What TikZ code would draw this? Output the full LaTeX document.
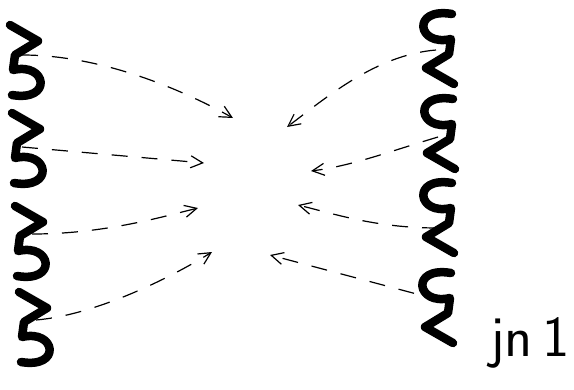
\documentclass[tikz,border=0pt]{standalone}
\usepackage{fontspec}
\usetikzlibrary{arrows.meta}
\tikzset{
  squig/.pic={\draw[line width=8.5pt,line cap=round,line join=round]
    (3,3) -- (31,19) -- (8,33) -- (6,48) .. controls (40,40) and (46,80) .. (5,73);},
  dasharrow/.style={-{Straight Barb[length=12pt,width=12pt]}, line width=1.2pt, dash pattern=on 16pt off 14pt},
}

\begin{document}
\begin{tikzpicture}[x=1pt,y=-1pt]
  \useasboundingbox (0,0) rectangle (574,389);
  \foreach \x/\y in {7/22, 9/110, 12/203, 16/289}
    \pic at (\x,\y) {squig};
  \foreach \x/\y in {457/87, 458/172, 457/256, 456/346}
    \pic[rotate=180] at (\x,\y) {squig};

  \coordinate (l1) at (22,55);
  \coordinate (l2) at (22,147);
  \coordinate (l3) at (32,234);
  \coordinate (l4) at (36,320);
  \coordinate (r1) at (436,50);
  \coordinate (r2) at (438,137);
  \coordinate (r3) at (438,228);
  \coordinate (r4) at (443,301);
  \coordinate (cl1) at (233,118);
  \coordinate (cl2) at (204,163);
  \coordinate (cl3) at (198,208);
  \coordinate (cl4) at (212,252);
  \coordinate (cr1) at (287,127);
  \coordinate (cr2) at (311,171);
  \coordinate (cr3) at (298,205);
  \coordinate (cr4) at (270,255);

  \draw[dasharrow] (l1) .. controls +(80,0) and +(-50,-28) .. (cl1);
  \draw[dasharrow] (l2) -- (cl2);
  \draw[dasharrow] (l3) .. controls +(70,0) and +(-40,10) .. (cl3);
  \draw[dasharrow] (l4) .. controls +(60,-5) and +(-40,25) .. (cl4);
  \draw[dasharrow] (r1) .. controls +(-60,5) and +(40,-30) .. (cr1);
  \draw[dasharrow] (r2) .. controls +(-50,15) and +(40,-5) .. (cr2);
  \draw[dasharrow] (r3) .. controls +(-60,0) and +(40,10) .. (cr3);
  \draw[dasharrow] (r4) -- (cr4);

  \node[anchor=base west, inner sep=0pt, font=\sffamily\fontsize{58}{58}\selectfont] (sig) at (490,356) {jn\,1};
\end{tikzpicture}
\end{document}
